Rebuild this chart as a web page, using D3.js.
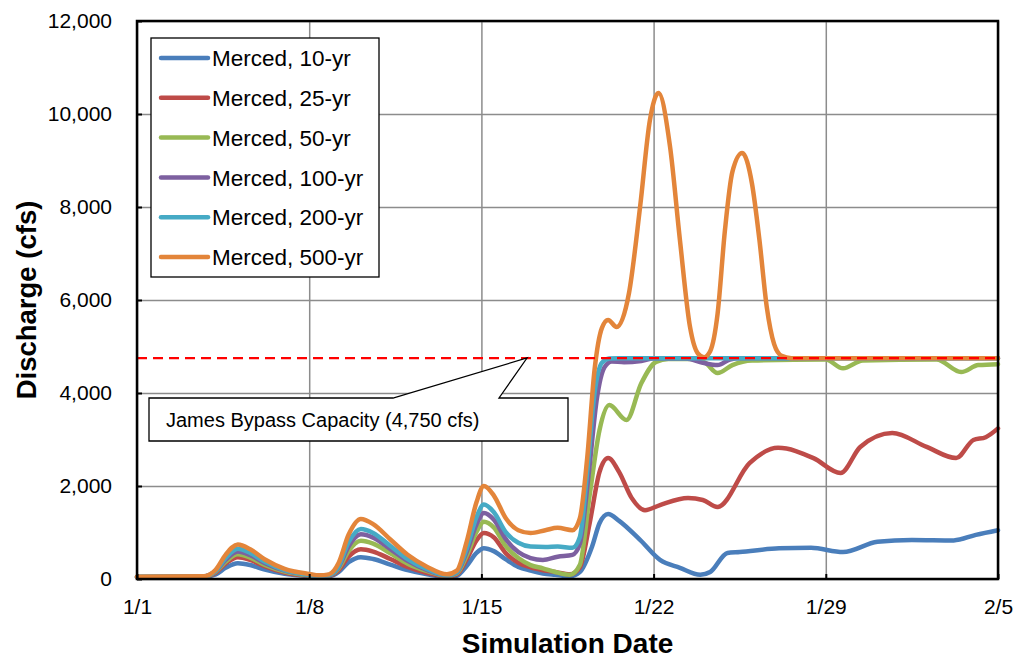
<!DOCTYPE html>
<html lang="en">
<head>
<meta charset="UTF-8"/>
<title>Merced discharge</title>
<script src="https://d3js.org/d3.v7.min.js"></script>
<style>
  body { margin: 0; background: #fff; }
  text { font-family: "Liberation Sans", Arial, sans-serif; }
</style>
</head>
<body>
<script>
var w = 1024;
var h = 658;

// day 0 = 1/1
var xTicks = [0, 7, 14, 21, 28, 35];
var xLabels = ["1/1", "1/8", "1/15", "1/22", "1/29", "2/5"];
var yTicks = [0, 2000, 4000, 6000, 8000, 10000, 12000];
var capacity = 4750;

var seriesNames = ["Merced, 10-yr", "Merced, 25-yr", "Merced, 50-yr",
                   "Merced, 100-yr", "Merced, 200-yr", "Merced, 500-yr"];
var seriesColors = ["#4A7EBB", "#BE4B48", "#98B954", "#7D60A0", "#46AAC5", "#E3853A"];

// [day, cfs]
var q10 = [[0,40],[2.7,45],[3.2,100],[3.6,240],[4.1,340],[4.6,300],[5.2,200],[6,110],[7,60],[7.4,45],[7.8,55],
  [8.2,150],[8.6,360],[9.1,470],[9.6,430],[10.3,310],[11,190],[11.8,100],[12.6,45],[13,70],[13.4,280],[13.8,560],
  [14.1,660],[14.5,600],[15,420],[15.5,260],[16,180],[16.5,120],[17,90],[17.6,60],[18,150],[18.5,700],[18.8,1200],
  [19.15,1400],[19.6,1250],[20.45,840],[21.26,410],[22.07,240],[22.9,90],[23.3,150],[24,560],[24.5,580],[26.1,660],
  [27.4,670],[28.7,580],[30.1,800],[31.5,840],[33.2,830],[34.1,950],[35,1050]];

var q25 = [[0,40],[2.7,50],[3.2,140],[3.6,330],[4.1,470],[4.6,410],[5.2,270],[6,140],[7,70],[7.4,55],[7.8,65],
  [8.2,190],[8.6,480],[9.1,640],[9.6,590],[10.3,430],[11,260],[11.8,130],[12.6,60],[13,100],[13.4,420],[13.8,830],
  [14.1,990],[14.5,900],[15,550],[15.5,350],[16,250],[16.5,190],[17,150],[17.6,100],[18,250],[18.4,1200],[18.8,2300],
  [19.15,2600],[19.6,2300],[20.1,1750],[20.65,1480],[21.26,1590],[22.4,1740],[23,1700],[23.6,1550],[24.9,2490],
  [26.06,2820],[27.5,2600],[28.6,2280],[29.4,2840],[30.7,3140],[32.1,2840],[33.3,2600],[34,2990],[34.5,3050],[35,3240]];

var q50 = [[0,45],[2.7,55],[3.2,160],[3.6,370],[4.1,530],[4.6,460],[5.2,300],[6,160],[7,80],[7.4,60],[7.8,75],
  [8.2,230],[8.6,600],[9.1,820],[9.6,760],[10.3,550],[11,330],[11.8,170],[12.6,70],[13,120],[13.4,500],[13.8,1010],
  [14.1,1230],[14.5,1110],[15,700],[15.5,450],[16,300],[16.5,230],[17,150],[17.6,90],[18,300],[18.4,1800],[18.8,3200],
  [19.2,3740],[19.9,3420],[20.5,4210],[21.1,4670],[21.6,4730],[22.5,4730],[23.1,4650],[23.6,4430],[24.2,4600],
  [25,4700],[28,4720],[28.7,4530],[29.5,4700],[32.5,4720],[33.5,4450],[34.2,4600],[35,4620]];

var q100 = [[0,45],[2.7,55],[3.2,170],[3.6,410],[4.1,590],[4.6,510],[5.2,340],[6,180],[7,90],[7.4,65],[7.8,80],
  [8.2,260],[8.6,700],[9.1,960],[9.6,890],[10.3,640],[11,390],[11.8,190],[12.6,75],[13,140],[13.4,580],[13.8,1170],
  [14.1,1420],[14.5,1280],[15,850],[15.5,580],[16,450],[16.5,410],[17.1,480],[17.7,520],[18,750],[18.35,2200],
  [18.7,3900],[19,4550],[19.3,4680],[19.8,4660],[20.5,4690],[21,4740],[22.3,4740],[23,4650],[23.6,4600],[24.1,4720],
  [24.5,4750],[35,4750]];

var q200 = [[0,50],[2.7,55],[3.2,180],[3.6,450],[4.1,650],[4.6,560],[5.2,370],[6,190],[7,90],[7.4,70],[7.8,85],
  [8.2,280],[8.6,790],[9.1,1075],[9.6,990],[10.3,710],[11,430],[11.8,210],[12.6,80],[13,150],[13.4,650],[13.8,1330],
  [14.1,1600],[14.5,1440],[15,1000],[15.5,780],[16,700],[16.6,690],[17.1,700],[17.7,670],[18,900],[18.3,2300],
  [18.6,4000],[18.9,4650],[19.2,4740],[19.6,4750],[35,4750]];

var q500 = [[0,50],[2.7,60],[3.2,200],[3.6,520],[4.1,740],[4.6,640],[5.2,420],[6,220],[7,110],[7.4,80],[7.8,100],
  [8.2,350],[8.6,950],[9.1,1290],[9.6,1180],[10.3,850],[11,520],[11.8,260],[12.6,100],[13,180],[13.4,800],[13.8,1650],
  [14.1,2000],[14.5,1800],[15,1300],[15.5,1050],[16,990],[16.6,1050],[17.1,1100],[17.7,1050],[18,1300],[18.3,2600],
  [18.6,4500],[18.9,5400],[19.15,5570],[19.5,5420],[20,6150],[20.45,8000],[20.85,9870],[21.2,10450],[21.67,9290],
  [22.07,7290],[22.48,5420],[22.8,4850],[23.05,4770],[23.3,4900],[23.6,5700],[23.9,7500],[24.2,8750],[24.6,9160],
  [25.0,8500],[25.3,7300],[25.6,5850],[25.9,5050],[26.2,4800],[26.6,4750],[35,4750]];

var allSeries = [q10, q25, q50, q100, q200, q500];

var plotLeft = 137, plotRight = 998, plotTop = 21, plotBottom = 579;

var xScale = d3.scaleLinear().domain([0, 35]).range([plotLeft, plotRight]);
var yScale = d3.scaleLinear().domain([0, 12000]).range([plotBottom, plotTop]);

var svg = d3.select("body").append("svg")
    .attr("width", w)
    .attr("height", h);

/* gridlines */
svg.append("g")
    .attr("transform", "translate(" + plotLeft + ",0)")
    .call(d3.axisLeft(yScale).tickValues(yTicks).tickSize(-(plotRight - plotLeft)).tickFormat(""))
    .call(g => g.select(".domain").remove())
    .call(g => g.selectAll("line").attr("stroke", "#8c8c8c").attr("stroke-width", 1.5));

svg.append("g")
    .attr("transform", "translate(0," + plotBottom + ")")
    .call(d3.axisBottom(xScale).tickValues(xTicks).tickSize(-(plotBottom - plotTop)).tickFormat(""))
    .call(g => g.select(".domain").remove())
    .call(g => g.selectAll("line").attr("stroke", "#8c8c8c").attr("stroke-width", 1.5));

/* series */
var line = d3.line()
    .x(d => xScale(d[0]))
    .y(d => yScale(d[1]))
    .curve(d3.curveMonotoneX);

svg.selectAll(".series")
    .data(allSeries)
    .enter()
    .append("path")
    .attr("class", "series")
    .attr("d", line)
    .attr("fill", "none")
    .attr("stroke", (d, i) => seriesColors[i])
    .attr("stroke-width", 4.5)
    .attr("stroke-linejoin", "round")
    .attr("stroke-linecap", "round");

/* capacity line */
svg.append("line")
    .attr("x1", plotLeft).attr("x2", plotRight)
    .attr("y1", yScale(capacity)).attr("y2", yScale(capacity))
    .attr("stroke", "#ff0000")
    .attr("stroke-width", 2.4)
    .attr("stroke-dasharray", "10,6");

/* frame */
svg.append("rect")
    .attr("x", plotLeft).attr("y", plotTop)
    .attr("width", plotRight - plotLeft).attr("height", plotBottom - plotTop)
    .attr("fill", "none")
    .attr("stroke", "#000")
    .attr("stroke-width", 2.5);

/* axes */
svg.append("g")
    .attr("transform", "translate(" + plotLeft + ",0)")
    .call(d3.axisLeft(yScale).tickValues(yTicks).tickSize(-5).tickPadding(25).tickFormat(d3.format(",")))
    .call(g => g.select(".domain").remove())
    .call(g => g.selectAll("line").attr("stroke", "#000").attr("stroke-width", 2))
    .call(g => g.selectAll("text").attr("font-size", "21px").attr("fill", "#000")
        .attr("font-family", "'Liberation Sans', Arial, sans-serif"));

svg.append("g")
    .attr("transform", "translate(0," + plotBottom + ")")
    .call(d3.axisBottom(xScale).tickValues(xTicks).tickSize(-5).tickPadding(20).tickFormat((d, i) => xLabels[i]))
    .call(g => g.select(".domain").remove())
    .call(g => g.selectAll("line").attr("stroke", "#000").attr("stroke-width", 2))
    .call(g => g.selectAll("text").attr("font-size", "21px").attr("fill", "#000")
        .attr("font-family", "'Liberation Sans', Arial, sans-serif"));

/* axis titles */
svg.append("text")
    .attr("transform", "translate(" + ((plotLeft + plotRight) / 2) + ",653)")
    .attr("text-anchor", "middle")
    .attr("font-size", "28px")
    .attr("font-weight", "bold")
    .text("Simulation Date");

svg.append("text")
    .attr("transform", "translate(36," + ((plotTop + plotBottom) / 2) + ") rotate(-90)")
    .attr("text-anchor", "middle")
    .attr("font-size", "27.5px")
    .attr("font-weight", "bold")
    .text("Discharge (cfs)");

/* callout */
var call = d3.path();
call.moveTo(149, 398);
call.lineTo(393, 398);
call.lineTo(527, 358);
call.lineTo(499, 398);
call.lineTo(568, 398);
call.lineTo(568, 441);
call.lineTo(149, 441);
call.closePath();
svg.append("path")
    .attr("d", call.toString())
    .attr("fill", "#fff")
    .attr("stroke", "#000")
    .attr("stroke-width", 1.3);

svg.append("text")
    .attr("x", 166)
    .attr("y", 427)
    .attr("font-size", "20px")
    .text("James Bypass Capacity (4,750 cfs)");

/* legend */
var legend = svg.append("g");
legend.append("rect")
    .attr("x", 151).attr("y", 38)
    .attr("width", 228).attr("height", 239)
    .attr("fill", "#fff")
    .attr("stroke", "#000")
    .attr("stroke-width", 1.3);

var rows = legend.selectAll(".row")
    .data(seriesNames)
    .enter()
    .append("g")
    .attr("transform", (d, i) => "translate(0," + (58 + i * 39.8) + ")");

rows.append("line")
    .attr("x1", 161).attr("x2", 208)
    .attr("stroke", (d, i) => seriesColors[i])
    .attr("stroke-width", 4.5)
    .attr("stroke-linecap", "round");

rows.append("text")
    .attr("x", 212)
    .attr("dy", "0.36em")
    .attr("font-size", "22.5px")
    .text(d => d);
</script>
</body>
</html>
